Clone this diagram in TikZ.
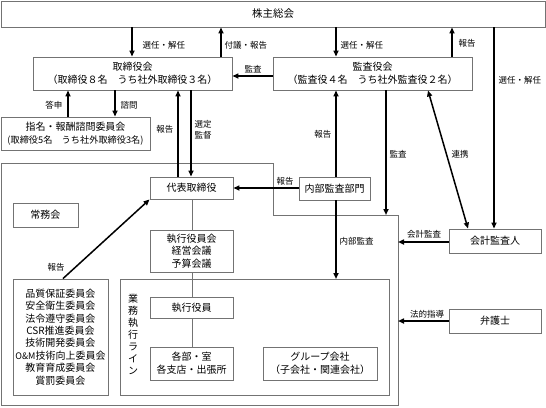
\documentclass[tikz,border=0pt]{standalone}
\usepackage{fontspec}
\setmainfont{Noto Sans CJK JP}
\usetikzlibrary{arrows.meta}
\begin{document}
\begin{tikzpicture}[x=1pt,y=-1pt,
 box/.style={draw=black!55, line width=0.9pt, fill=white, inner sep=0pt, align=center, font=\fontsize{10}{13}\selectfont},
 frameline/.style={draw=black!55, line width=0.9pt},
 arr/.style={line width=1.5pt, -{Triangle[length=6pt,width=5pt]}},
 darr/.style={line width=1.5pt, {Triangle[length=6pt,width=5pt]}-{Triangle[length=6pt,width=5pt]}},
 lbl/.style={font=\fontsize{8.5}{11}\selectfont, inner sep=0.5pt, align=center},
 thinline/.style={draw=black!55, line width=0.9pt}]
\useasboundingbox (0,0) rectangle (546,407);
% frames
\draw[frameline] (1,163) -- (273,163) -- (273,215) -- (398,215) -- (398,405) -- (1,405) -- cycle;
\draw[frameline] (120,279) rectangle (389,395);
% frame coordinates
\coordinate (fa) at (386,215);
\coordinate (fb) at (398,242);
\coordinate (fc) at (398,321);
\coordinate (fd) at (336,279);
% x guides
\coordinate (x63) at (63,0);
\coordinate (x68) at (68,0);
\coordinate (x115) at (115,0);
\coordinate (x132) at (132,0);
\coordinate (x178) at (178,0);
\coordinate (x191) at (191,0);
\coordinate (x192) at (192,0);
\coordinate (x221) at (221,0);
\coordinate (x336) at (336,0);
\coordinate (x386) at (386,0);
\coordinate (x428) at (428,0);
\coordinate (x452) at (452,0);
\coordinate (x468) at (468,0);
\coordinate (x494) at (494,0);
\coordinate (y76) at (0,76);
\coordinate (y188) at (0,188);
% nodes
\node[box, minimum width=544pt, minimum height=26pt] (sh) at (273,14) {\fontsize{10.5}{13}\selectfont 株主総会};
\node[box, minimum width=199pt, minimum height=33pt] (tb) at (132.5,73.5) {取締役会\\（取締役８名　うち社外取締役３名）};
\node[box, minimum width=199pt, minimum height=33pt] (kb) at (372.5,73.5) {監査役会\\（監査役４名　うち社外監査役２名）};
\node[box, minimum width=149pt, minimum height=33pt, font=\fontsize{9.2}{13}\selectfont] (sm) at (75.5,133.5) {{\fontsize{10}{13}\selectfont 指名・報酬諮問委員会}\\(取締役5名　うち社外取締役3名)};
\node[box, minimum width=83pt, minimum height=22pt] (dt) at (191.5,188) {代表取締役};
\node[box, minimum width=65pt, minimum height=24pt] (jm) at (45.5,215) {常務会};
\node[box, minimum width=71pt, minimum height=23pt] (ny) at (334.5,188.5) {内部監査部門};
\node[box, minimum width=92pt, minimum height=24pt] (kk) at (495,241) {会計監査人};
\node[box, minimum width=92pt, minimum height=24pt] (bg) at (495,321) {弁護士};
\node[box, minimum width=83pt, minimum height=42pt, font=\fontsize{10}{12.5}\selectfont] (sy) at (191.5,251) {執行役員会\\経営会議\\予算会議};
\node[box, minimum width=95pt, minimum height=116pt, font=\fontsize{10}{12.4}\selectfont] (iv) at (60.5,337) {品質保証委員会\\安全衛生委員会\\法令遵守委員会\\CSR推進委員会\\技術開発委員会\\{\fontsize{9}{12.4}\selectfont O\&M}技術向上委員会\\教育育成委員会\\賞罰委員会};
\node[box, minimum width=83pt, minimum height=21pt] (sk) at (191.5,307.5) {執行役員};
\node[box, minimum width=83pt, minimum height=33pt] (bu) at (191.5,363.5) {各部・室\\各支店・出張所};
\node[box, minimum width=114pt, minimum height=33pt] (gr) at (320,363.5) {グループ会社\\（子会社・関連会社）};
\node[inner sep=0pt, align=center, font=\fontsize{10}{12}\selectfont] (vt) at (133,334) {業\\務\\執\\行\\ラ\\イ\\ン};
% thin connectors
\draw[thinline] (x192 |- dt.south) -- (x192 |- sy.north);
\draw[thinline] (x192 |- sy.south) -- (x192 |- sk.north);
\draw[thinline] (x192 |- sk.south) -- (x192 |- bu.north);
% arrows
\draw[arr] (x132 |- sh.south) -- (x132 |- tb.north);
\draw[arr] (x221 |- tb.north) -- (x221 |- sh.south);
\draw[arr] (x336 |- sh.south) -- (x336 |- kb.north);
\draw[arr] (x452 |- kb.north) -- (x452 |- sh.south);
\draw[arr] (x494 |- sh.south) -- (x494 |- kk.north);
\draw[arr] (kb.west |- y76) -- (tb.east |- y76);
\draw[arr] (x68 |- sm.north) -- (x68 |- tb.south);
\draw[arr] (x115 |- tb.south) -- (x115 |- sm.north);
\draw[arr] (x178 |- dt.north) -- (x178 |- tb.south);
\draw[arr] (x191 |- tb.south) -- (x191 |- dt.north);
\draw[arr] (ny.west |- y188) -- (dt.east |- y188);
\draw[arr] (x336 |- ny.north) -- (x336 |- kb.south);
\draw[arr] (x386 |- kb.south) -- (fa);
\draw[darr] (x428 |- kb.south) -- (x468 |- kk.north);
\draw[arr] (kk.west |- fb) -- (fb);
\draw[arr] (bg.west |- fc) -- (fc);
\draw[arr] (x336 |- ny.south) -- (fd);
\draw[arr] (x63 |- iv.north) -- (dt.south west);
% labels
\node[lbl, anchor=west] (l1) at (142,45) {選任・解任};
\node[lbl, anchor=west] (l2) at (224,45) {付議・報告};
\node[lbl, anchor=west] (l3) at (340,45) {選任・解任};
\node[lbl, anchor=west] (l4) at (458,43) {報告};
\node[lbl, anchor=west] (l5) at (498,80) {選任・解任};
\node[lbl] (l6) at (253,69) {監査};
\node[lbl, anchor=east] (l7) at (63,105) {答申};
\node[lbl, anchor=west] (l8) at (120,105) {諮問};
\node[lbl, anchor=east] (l9) at (174,129) {報告};
\node[lbl, anchor=west] (l10) at (194,130) {選定\\監督};
\node[lbl] (l11) at (285,181) {報告};
\node[lbl, anchor=east] (l12) at (332,134) {報告};
\node[lbl, anchor=west] (l13) at (389,154) {監査};
\node[lbl] (l14) at (460,154) {連携};
\node[lbl, anchor=west] (l15) at (339,241) {内部監査};
\node[lbl] (l16) at (424,234) {会計監査};
\node[lbl] (l17) at (427,314) {法的指導};
\node[lbl] (l18) at (56,267) {報告};
\end{tikzpicture}
\end{document}
